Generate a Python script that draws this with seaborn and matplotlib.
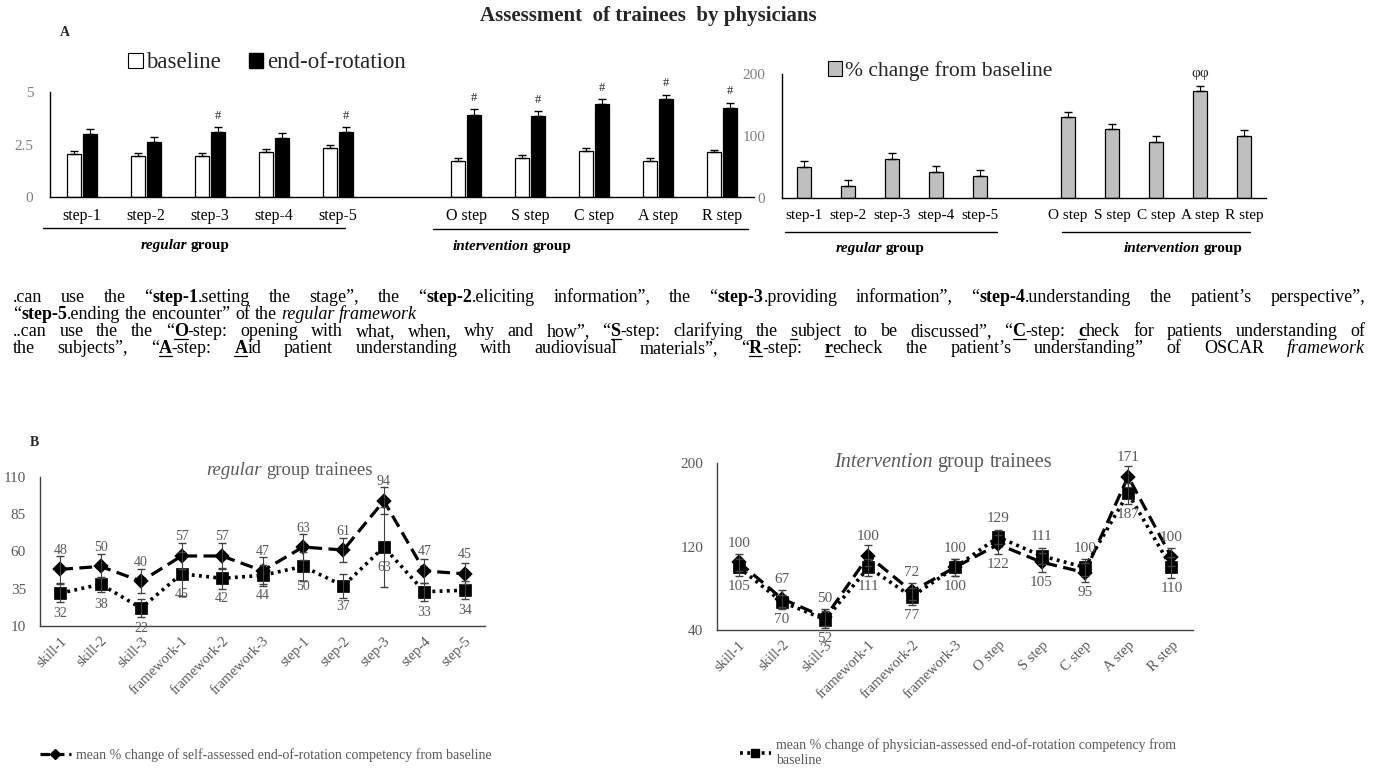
import matplotlib
matplotlib.use('Agg')
import matplotlib.pyplot as plt
from matplotlib.lines import Line2D
from matplotlib.patches import Patch
import numpy as np
import pandas as pd
import seaborn as sns

# ---------------- panel A data ----------------
steps = ['step-1', 'step-2', 'step-3', 'step-4', 'step-5']
oscar = ['O step', 'S step', 'C step', 'A step', 'R step']
baseline = [2.05, 1.95, 1.95, 2.15, 2.33, 1.71, 1.86, 2.20, 1.71, 2.14]
baseline_err = [0.12, 0.15, 0.15, 0.12, 0.15, 0.15, 0.15, 0.15, 0.15, 0.12]
end_rot = [3.00, 2.62, 3.10, 2.80, 3.10, 3.90, 3.86, 4.43, 4.67, 4.24]
end_err = [0.25, 0.22, 0.22, 0.25, 0.22, 0.28, 0.22, 0.22, 0.20, 0.25]
end_marks = ['', '', '#', '', '#', '#', '#', '#', '#', '#']
pct_change = [50, 20, 63, 42, 36, 130, 111, 91, 172, 100]
pct_err = [9, 9, 10, 9, 9, 9, 9, 9, 9, 9]
pct_marks = ['', '', '', '', '', '', '', '', 'φφ', '']

# ---------------- panel B data ----------------
items_reg = ['skill-1', 'skill-2', 'skill-3', 'framework-1', 'framework-2', 'framework-3',
             'step-1', 'step-2', 'step-3', 'step-4', 'step-5']
self_reg = [48, 50, 40, 57, 57, 47, 63, 61, 94, 47, 45]
self_reg_err = [9, 8, 8, 9, 9, 9, 9, 8, 9, 8, 7]
phys_reg = [32, 38, 22, 45, 42, 44, 50, 37, 63, 33, 34]
phys_reg_err = [6, 5, 6, 15, 7, 7, 10, 8, 27, 6, 6]

items_int = ['skill-1', 'skill-2', 'skill-3', 'framework-1', 'framework-2', 'framework-3',
             'O step', 'S step', 'C step', 'A step', 'R step']
self_int = [105, 70, 52, 111, 77, 100, 122, 105, 95, 187, 110]
self_int_err = [8, 8, 8, 10, 8, 8, 9, 9, 9, 10, 9]
phys_int = [100, 67, 50, 100, 72, 100, 129, 111, 100, 171, 100]
phys_int_err = [8, 7, 8, 8, 8, 8, 7, 8, 8, 10, 10]

W, H = 1375, 771
GRAY = '#595959'

sns.set_style('white')
plt.rcParams['font.family'] = ['Liberation Serif', 'DejaVu Serif']

fig = plt.figure(figsize=(13.75, 7.71), dpi=100)
R = fig.canvas.get_renderer()


def px_axes(x0, y0, x1, y1):
    return fig.add_axes([x0 / W, 1 - y1 / H, (x1 - x0) / W, (y1 - y0) / H])


def px_line(x0, x1, y, lw=1.0, color='black'):
    fig.add_artist(Line2D([x0 / W, x1 / W], [1 - y / H, 1 - y / H], color=color, lw=lw))


STYLES = {'n': ('normal', 'normal', False), 'b': ('bold', 'normal', False),
          'i': ('normal', 'italic', False), 'u': ('normal', 'normal', True),
          'bu': ('bold', 'normal', True), 'bi': ('bold', 'italic', False)}


def split_words(segs):
    words = [[]]
    for txt, st in segs:
        for k, p in enumerate(txt.split(' ')):
            if k > 0:
                words.append([])
            if p:
                words[-1].append((p, st))
    return [w for w in words if w]


def space_width(size):
    a = fig.text(0, 0, 'x x', fontsize=size)
    b = fig.text(0, 0, 'xx', fontsize=size)
    sp = a.get_window_extent(R).width - b.get_window_extent(R).width
    a.remove()
    b.remove()
    return sp


def rich_line(segs, x, y, size, color='black', width=None, ha='left'):
    # place mixed-style words one after another, optionally justified
    rows = []
    for w in split_words(segs):
        row = []
        for p, st in w:
            wt, sl, ul = STYLES[st]
            t = fig.text(0, 1 - y / H, p, fontsize=size, fontweight=wt,
                         fontstyle=sl, color=color, va='baseline')
            row.append((t, t.get_window_extent(R).width, ul))
        rows.append(row)
    space = space_width(size)
    total = sum(sum(c[1] for c in row) for row in rows)
    if width is not None and len(rows) > 1:
        gap = (width - total) / (len(rows) - 1)
    else:
        gap = space
    full = total + gap * (len(rows) - 1)
    cx = x - full / 2 if ha == 'center' else x
    for row in rows:
        for t, wd, ul in row:
            t.set_x(cx / W)
            if ul:
                px_line(cx, cx + wd, y + 2.5, lw=0.9, color=color)
            cx += wd
        cx += gap


# ---------------- titles ----------------
fig.text(648 / W, 1 - 16 / H, 'Assessment  of trainees  by physicians', ha='center',
         va='center', fontsize=15, fontweight='bold')
fig.text(60 / W, 1 - 32 / H, 'A', fontsize=10, fontweight='bold', va='center')
fig.text(30 / W, 1 - 443 / H, 'B', fontsize=10, fontweight='bold', va='center')

# ---------------- panel A left: baseline vs end-of-rotation ----------------
order = steps + [' '] + oscar
cats = steps + oscar
dfA = pd.DataFrame({'step': cats * 2,
                    'score': baseline + end_rot,
                    'time': ['baseline'] * 10 + ['end-of-rotation'] * 10})
ax1 = px_axes(50, 92, 754, 197)
sns.barplot(data=dfA, x='step', y='score', hue='time', order=order,
            palette={'baseline': 'white', 'end-of-rotation': 'black'},
            edgecolor='black', linewidth=0.9, width=0.5, gap=0.12,
            errorbar=None, legend=False, ax=ax1)
xpos = np.array([order.index(c) for c in cats])
ax1.errorbar(xpos - 0.125, baseline, yerr=[np.zeros(10), baseline_err], fmt='none',
             ecolor='black', elinewidth=0.8, capsize=3)
ax1.errorbar(xpos + 0.125, end_rot, yerr=[np.zeros(10), end_err], fmt='none',
             ecolor='black', elinewidth=0.8, capsize=3)
for xi, v, e, m in zip(xpos, end_rot, end_err, end_marks):
    if m:
        ax1.annotate(m, (xi + 0.125, v + e), xytext=(0, 4), textcoords='offset points',
                     ha='center', va='bottom', fontsize=9)
ax1.set_xlim(-0.5, 10.5)
ax1.set_ylim(0, 5)
ax1.set_yticks([0, 2.5, 5], labels=['0', '2.5', '5'])
ax1.set_xlabel('')
ax1.set_ylabel('')
ax1.tick_params(axis='x', length=0, pad=8, labelsize=11.5, labelcolor='black')
ax1.tick_params(axis='y', length=0, pad=12, labelsize=11, labelcolor='#7f7f7f')
sns.despine(ax=ax1)
for s in ['left', 'bottom']:
    ax1.spines[s].set_color('black')
    ax1.spines[s].set_linewidth(1.0)

fig.legend(handles=[Patch(fc='white', ec='black', lw=0.8), Patch(fc='black', ec='black')],
           labels=['baseline', 'end-of-rotation'], loc='center left',
           bbox_to_anchor=(128 / W, 1 - 63 / H), ncol=2, frameon=False, fontsize=16.5,
           handlelength=0.65, handleheight=0.65, handletextpad=0.15, columnspacing=1.2,
           borderpad=0, borderaxespad=0)

px_line(43, 345, 228)
px_line(433, 748, 229)
rich_line([('regular', 'bi'), (' group', 'b')], 185, 249, 11, ha='center')
rich_line([('intervention', 'bi'), (' group', 'b')], 512, 250, 11, ha='center')

# ---------------- panel A right: % change ----------------
dfP = pd.DataFrame({'step': cats, 'pct': pct_change})
ax2 = px_axes(782, 74, 1266, 198)
sns.barplot(data=dfP, x='step', y='pct', order=order, color='#bfbfbf', saturation=1,
            edgecolor='black', linewidth=0.9, width=0.32, errorbar=None, ax=ax2)
ax2.errorbar(xpos, pct_change, yerr=[np.zeros(10), pct_err], fmt='none',
             ecolor='black', elinewidth=0.8, capsize=3)
for xi, v, e, m in zip(xpos, pct_change, pct_err, pct_marks):
    if m:
        ax2.annotate(m, (xi, v + e), xytext=(0, 4), textcoords='offset points',
                     ha='center', va='bottom', fontsize=11)
ax2.set_xlim(-0.5, 10.5)
ax2.set_ylim(0, 200)
ax2.set_yticks([0, 100, 200])
ax2.set_xlabel('')
ax2.set_ylabel('')
ax2.tick_params(axis='x', length=0, pad=8, labelsize=11, labelcolor='black')
ax2.tick_params(axis='y', length=0, pad=12, labelsize=11, labelcolor='#7f7f7f')
sns.despine(ax=ax2)
for s in ['left', 'bottom']:
    ax2.spines[s].set_color('black')
    ax2.spines[s].set_linewidth(1.0)

fig.legend(handles=[Patch(fc='#bfbfbf', ec='black', lw=0.8)], labels=['% change from baseline'],
           loc='center left', bbox_to_anchor=(828 / W, 1 - 71 / H), frameon=False, fontsize=15.5,
           handlelength=0.65, handleheight=0.65, handletextpad=0.15, borderpad=0, borderaxespad=0)

px_line(785, 997, 232)
px_line(1062, 1250, 232)
rich_line([('regular', 'bi'), (' group', 'b')], 880, 252, 11, ha='center')
rich_line([('intervention', 'bi'), (' group', 'b')], 1183, 252, 11, ha='center')

# ---------------- explanatory text ----------------
para = [
    ([('.can use the “', 'n'), ('step-1', 'b'), ('.setting the stage”, the “', 'n'), ('step-2', 'b'),
      ('.eliciting information”, the “', 'n'), ('step-3', 'b'), ('.providing information”, “', 'n'),
      ('step-4', 'b'), ('.understanding the patient’s perspective”,', 'n')], 302, True),
    ([('“', 'n'), ('step-5', 'b'), ('.ending the encounter” of the ', 'n'),
      ('regular framework', 'i')], 319, False),
    ([('..can use the the “', 'n'), ('O', 'bu'), ('-step: opening with what, when, why and how”, “', 'n'),
      ('S', 'bu'), ('-step: clarifying the ', 'n'), ('s', 'u'), ('ubject to be discussed”, “', 'n'),
      ('C', 'bu'), ('-step: ', 'n'), ('c', 'bu'), ('heck for patients understanding of', 'n')], 336, True),
    ([('the subjects”, “', 'n'), ('A', 'bu'), ('-step: ', 'n'), ('A', 'bu'),
      ('id patient understanding with audiovisual materials”, “', 'n'), ('R', 'bu'), ('-step: ', 'n'),
      ('r', 'bu'), ('echeck the patient’s understanding” of OSCAR ', 'n'), ('framework', 'i')], 353, True),
]
for segs, yb, just in para:
    rich_line(segs, 13, yb, 13, width=(1352 if just else None))


# ---------------- panel B ----------------
def line_panel(ax, items, self_v, self_e, phys_v, phys_e, lab_size, off, below_err=False):
    df = pd.DataFrame({'item': items, 'self': self_v, 'phys': phys_v})
    n0 = len(ax.lines)
    sns.pointplot(data=df, x='item', y='self', order=items, color='black', markers='D',
                  markersize=6, linewidth=2.3, errorbar=None, ax=ax)
    for ln in ax.lines[n0:]:
        ln.set_dashes([4, 2])
    n1 = len(ax.lines)
    sns.pointplot(data=df, x='item', y='phys', order=items, color='black', markers='s',
                  markersize=7, linewidth=2.6, errorbar=None, ax=ax)
    for ln in ax.lines[n1:]:
        ln.set_dashes([0.8, 1.2])
    x = np.arange(len(items))
    ax.errorbar(x, self_v, yerr=self_e, fmt='none', ecolor='#404040', elinewidth=0.8, capsize=3)
    ax.errorbar(x, phys_v, yerr=phys_e, fmt='none', ecolor='#404040', elinewidth=0.8, capsize=3)
    for xi, sv, pv, se, pe in zip(x, self_v, phys_v, self_e, phys_e):
        hi = max(sv, pv)
        lo = min(sv - se, pv - pe) if below_err else min(sv, pv)
        up, dn = (sv, pv) if off == 'self' else (pv, sv)
        ax.annotate(str(up), (xi, hi), xytext=(0, 9), textcoords='offset points',
                    ha='center', va='bottom', fontsize=lab_size, color=GRAY)
        ax.annotate(str(dn), (xi, lo), xytext=(0, -10 if not below_err else -3),
                    textcoords='offset points',
                    ha='center', va='top', fontsize=lab_size, color=GRAY)
    ax.set_xlim(-0.5, len(items) - 0.5)
    ax.set_xlabel('')
    ax.set_ylabel('')
    ax.tick_params(axis='x', length=0, pad=6, labelsize=10.5, labelcolor=GRAY)
    ax.tick_params(axis='y', length=0, pad=10, labelsize=11, labelcolor=GRAY)
    plt.setp(ax.get_xticklabels(), rotation=45, ha='right', rotation_mode='anchor')
    sns.despine(ax=ax)
    for s in ['left', 'bottom']:
        ax.spines[s].set_color('#404040')
        ax.spines[s].set_linewidth(1.0)


ax3 = px_axes(40, 477, 485, 626)
line_panel(ax3, items_reg, self_reg, self_reg_err, phys_reg, phys_reg_err, 10, 'self')
ax3.set_ylim(10, 110)
ax3.set_yticks([10, 35, 60, 85, 110])
rich_line([('regular', 'i'), ('  group trainees', 'n')], 290, 475, 13.5, color=GRAY, ha='center')

ax4 = px_axes(717, 463, 1193, 630)
line_panel(ax4, items_int, self_int, self_int_err, phys_int, phys_int_err, 11, 'phys',
           below_err=True)
ax4.set_ylim(40, 200)
ax4.set_yticks([40, 120, 200])
rich_line([('Intervention', 'i'), (' group trainees', 'n')], 943, 467, 14.5, color=GRAY, ha='center')

fig.legend(handles=[Line2D([], [], color='black', lw=2.3, dashes=(3, 1.5), marker='D', markersize=5)],
           labels=['mean % change of self-assessed end-of-rotation competency from baseline'],
           loc='center left', bbox_to_anchor=(40 / W, 1 - 755 / H), frameon=False, fontsize=10,
           labelcolor=GRAY, handlelength=2.2, handletextpad=0.4, borderpad=0, borderaxespad=0)
fig.legend(handles=[Line2D([], [], color='black', lw=2.6, dashes=(0.8, 1.2), marker='s', markersize=6)],
           labels=['mean % change of physician-assessed end-of-rotation competency from\nbaseline'],
           loc='upper left', bbox_to_anchor=(740 / W, 1 - 738 / H), frameon=False, fontsize=10,
           labelcolor=GRAY, handlelength=2.2, handletextpad=0.4, borderpad=0, borderaxespad=0)

fig.savefig('out.png', dpi=100)
